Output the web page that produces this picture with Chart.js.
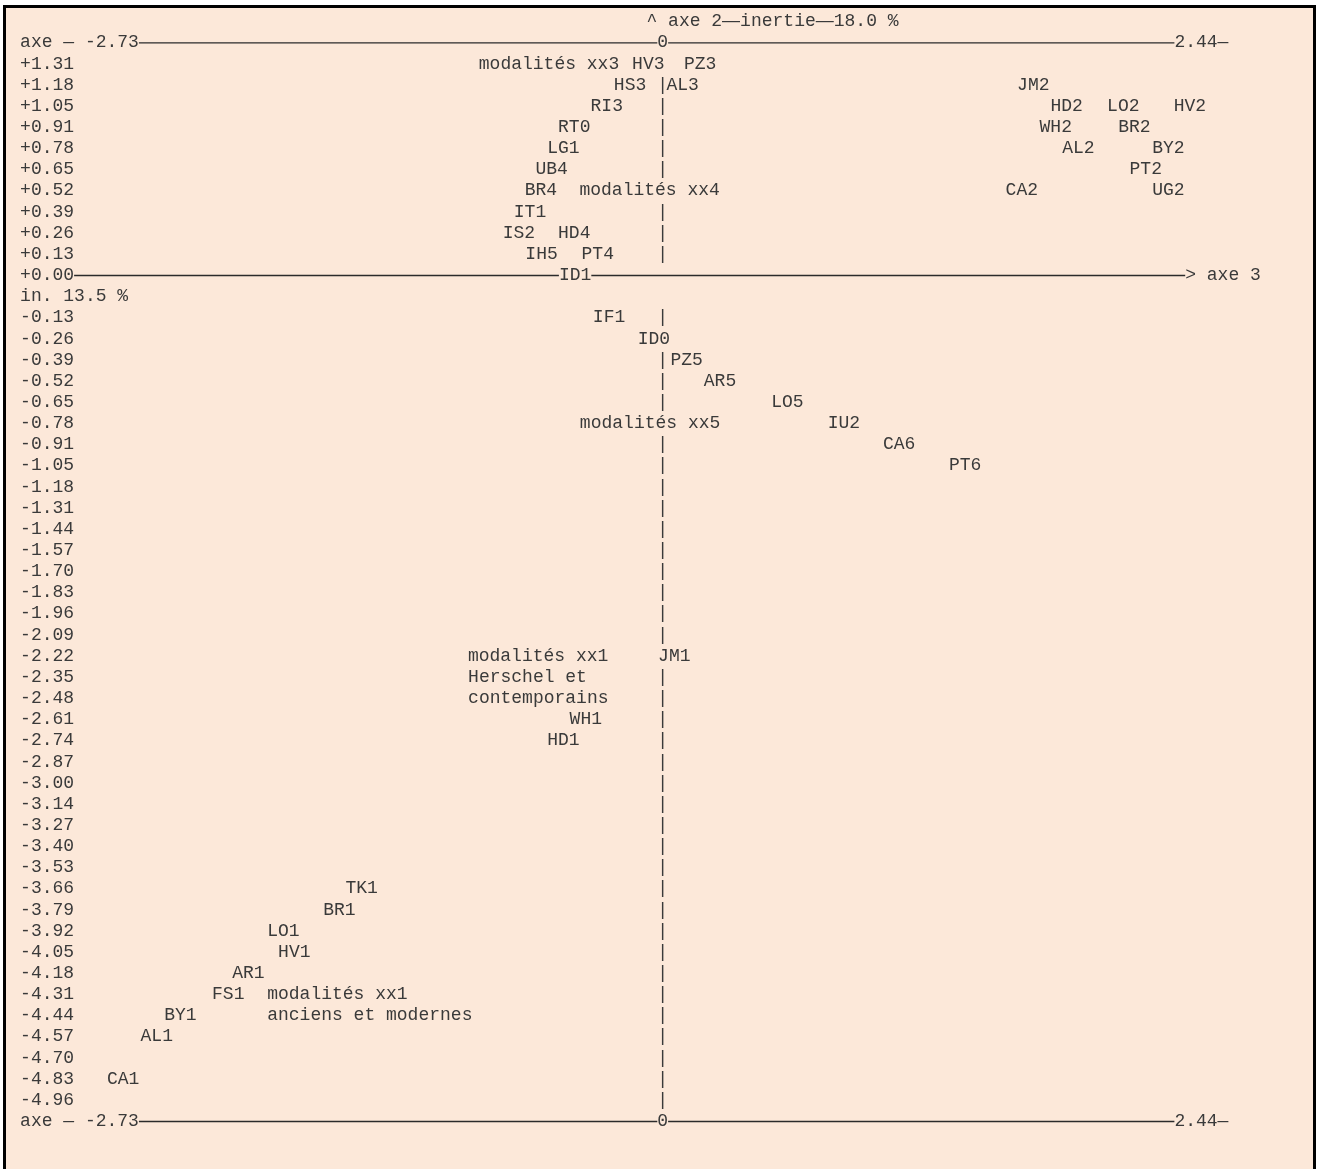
<!DOCTYPE html>
<html>
<head>
<meta charset="utf-8">
<script src="https://cdn.jsdelivr.net/npm/chart.js@4.4.1/dist/chart.umd.min.js"></script>
<style>
  html, body { margin: 0; padding: 0; background: #fff; overflow: hidden; }
  #box { position: absolute; left: 3px; top: 5px; width: 1313px; height: 1250px; box-sizing: border-box;
         border: 3px solid #000; background: #fce8d9; }
  #wrap { position: absolute; left: 0; top: 0; width: 1317px; height: 1169px; }
</style>
</head>
<body>
<div id="box"></div>
<div id="wrap"><canvas id="plan"></canvas></div>
<script>
// rows of the text plot (axe 2), the "in." line is the inertia note of axe 3
const rowLabels = ['+1.31','+1.18','+1.05','+0.91','+0.78','+0.65','+0.52','+0.39','+0.26','+0.13',
  '+0.00','in. 13.5 %',
  '-0.13','-0.26','-0.39','-0.52','-0.65','-0.78','-0.91','-1.05','-1.18','-1.31','-1.44','-1.57',
  '-1.70','-1.83','-1.96','-2.09','-2.22','-2.35','-2.48','-2.61','-2.74','-2.87','-3.00','-3.14',
  '-3.27','-3.40','-3.53','-3.66','-3.79','-3.92','-4.05','-4.18','-4.31','-4.44','-4.57','-4.70',
  '-4.83','-4.96'];
const axe3Ends = ['-2.73', '2.44'];
const zeroRow = '+0.00';
const inertiaRow = 'in. 13.5 %';
const titleParts = ['^ axe 2', 'inertie', '18.0 %'];
const axe3Title = 'axe 3';

// modalites
const modNames = ['HV3','PZ3','HS3','AL3','JM2','RI3','HD2','LO2','HV2','RT0','WH2','BR2',
  'LG1','AL2','BY2','UB4','PT2','BR4','CA2','UG2','IT1','IS2','HD4','IH5','PT4','ID1',
  'IF1','ID0','PZ5','AR5','LO5','IU2','CA6','PT6','JM1','WH1','HD1',
  'TK1','BR1','LO1','HV1','AR1','FS1','BY1','AL1','CA1'];
const modAxe3 = [-0.146, 0.101, -0.233, 0.018, 1.690, -0.344, 1.849, 2.119, 2.437, -0.499, 1.797, 2.172,
  -0.551, 1.905, 2.334, -0.607, 2.226, -0.658, 1.635, 2.334, -0.710, -0.763, -0.499, -0.655, -0.387, -0.495,
  -0.333, -0.119, 0.037, 0.196, 0.517, 0.787, 1.050, 1.365, -0.022, -0.444, -0.551,
  -1.513, -1.619, -1.886, -1.834, -2.053, -2.149, -2.377, -2.490, -2.650];
const modAxe2 = ['+1.31','+1.31','+1.18','+1.18','+1.18','+1.05','+1.05','+1.05','+1.05','+0.91','+0.91','+0.91',
  '+0.78','+0.78','+0.78','+0.65','+0.65','+0.52','+0.52','+0.52','+0.39','+0.26','+0.26','+0.13','+0.13','+0.00',
  '-0.13','-0.26','-0.39','-0.52','-0.65','-0.78','-0.91','-1.05','-2.22','-2.61','-2.74',
  '-3.66','-3.79','-3.92','-4.05','-4.18','-4.31','-4.44','-4.57','-4.83'];

// group notes written in the plot
const noteTexts = ['modalités xx3','modalités xx4','modalités xx5','modalités xx1','Herschel et',
  'contemporains','modalités xx1','anciens et modernes'];
const noteAxe3 = [-0.877, -0.397, -0.395, -0.929, -0.928, -0.928, -1.886, -1.886];
const noteAxe2 = ['+1.31','+0.52','-0.78','-2.22','-2.35','-2.48','-4.31','-4.44'];

const FONT_FAMILY = "'Courier New', 'Liberation Mono', monospace";
const FONT = '18px ' + FONT_FAMILY;
const DASH_FONT = "18px 'Liberation Sans', Arial, sans-serif";
const INK = '#3a3a3a';
const BG = '#fce8d9';

const toPoints = (names, xs, ys) => names.map((n, i) => ({ x: xs[i], y: ys[i], name: n }));

const textPlot = {
  id: 'textPlot',
  afterDatasetsDraw(chart) {
    const { ctx, scales: { x, y } } = chart;
    ctx.save();
    ctx.font = FONT;
    ctx.textBaseline = 'middle';
    ctx.fillStyle = INK;
    ctx.strokeStyle = '#2b2b2b';
    const cw = ctx.measureText('0').width;
    const step = y.getPixelForValue(1) - y.getPixelForValue(0);
    const x0 = x.getPixelForValue(0);
    const d = ctx.measureText('—');
    const dashOff = (d.actualBoundingBoxDescent - d.actualBoundingBoxAscent) / 2;
    ctx.lineWidth = 1.4;
    const hline = (a, b, py) => {
      ctx.beginPath(); ctx.moveTo(a, py + dashOff); ctx.lineTo(b, py + dashOff); ctx.stroke();
    };

    // collect the marks with their pixel positions
    const marks = [];
    chart.data.datasets.forEach((ds, di) => {
      chart.getDatasetMeta(di).data.forEach((el, i) => {
        const p = ds.data[i];
        marks.push({ text: p.name, px: el.x, py: el.y, row: rowLabels.indexOf(p.y),
                     w: ctx.measureText(p.name).width });
      });
    });

    const zr = rowLabels.indexOf(zeroRow);
    const ir = rowLabels.indexOf(inertiaRow);

    // inertia note of axe 3 (wider than the tick column)
    ctx.textAlign = 'left';
    ctx.fillText(inertiaRow, y.left, y.getPixelForValue(ir));

    // vertical axis made of "|" per line
    ctx.textAlign = 'center';
    rowLabels.forEach((lab, r) => {
      if (r === zr || r === ir) return;
      const covered = marks.some(m => m.row === r && m.px <= x0 && m.px + m.w >= x0);
      if (!covered) ctx.fillText('|', x0, y.getPixelForValue(r));
    });

    // top and bottom axe 3 lines
    const axisLine = (py) => {
      ctx.textAlign = 'left';
      const lead = 'axe — ' + axe3Ends[0];
      ctx.fillText(lead, y.left, py);
      hline(y.left + ctx.measureText(lead).width, x0 - cw / 2, py);
      ctx.textAlign = 'center';
      ctx.fillText('0', x0, py);
      hline(x0 + cw / 2, x.right, py);
      ctx.textAlign = 'left';
      ctx.fillText(axe3Ends[1] + '—', x.right, py);
    };
    const yTop = y.getPixelForValue(0) - step;
    const yBot = y.getPixelForValue(rowLabels.length - 1) + step;
    axisLine(yTop);
    axisLine(yBot);

    // zero line of axe 2
    const yz = y.getPixelForValue(zr);
    ctx.textAlign = 'left';
    hline(y.left + ctx.measureText(zeroRow).width, x.right + cw, yz);
    ctx.fillText('> ' + axe3Title, x.right + cw, yz);

    // title of axe 2
    const yt = yTop - step;
    let tx = x0 - 1.5 * cw;
    titleParts.forEach((part, i) => {
      ctx.font = FONT;
      ctx.fillText(part, tx, yt);
      tx += ctx.measureText(part).width;
      if (i < titleParts.length - 1) {
        ctx.font = DASH_FONT;
        ctx.fillText('—', tx, yt);
        tx += ctx.measureText('—').width;
      }
    });
    ctx.font = FONT;

    // labels
    ctx.textAlign = 'left';
    marks.forEach(m => {
      if (m.row === zr) {
        ctx.fillStyle = BG;
        ctx.fillRect(m.px, m.py - step / 2 + 2, m.w, step - 4);
        ctx.fillStyle = INK;
      }
      ctx.fillText(m.text, m.px, m.py);
    });
    ctx.restore();
  }
};

new Chart(document.getElementById('plan'), {
  type: 'scatter',
  data: {
    datasets: [
      { label: 'modalités', data: toPoints(modNames, modAxe3, modAxe2), pointRadius: 0, pointHoverRadius: 0 },
      { label: 'groupes', data: toPoints(noteTexts, noteAxe3, noteAxe2), pointRadius: 0, pointHoverRadius: 0 }
    ]
  },
  options: {
    responsive: true,
    maintainAspectRatio: false,
    animation: false,
    events: [],
    layout: { padding: { left: 20.1, top: 63.8, right: 142.6, bottom: 68.85 } },
    plugins: { legend: { display: false }, tooltip: { enabled: false } },
    scales: {
      x: {
        type: 'linear',
        min: parseFloat(axe3Ends[0]),
        max: parseFloat(axe3Ends[1]),
        display: false
      },
      y: {
        type: 'category',
        labels: rowLabels,
        offset: false,
        grid: { display: false },
        border: { display: false },
        afterFit: (scale) => { scale.width = 70.1; },
        ticks: {
          autoSkip: false,
          crossAlign: 'far',
          padding: 0,
          color: INK,
          font: { family: FONT_FAMILY, size: 18 },
          // the inertia line is written by the plugin, it is wider than the tick column
          callback: (v, i) => (rowLabels[i] === inertiaRow ? '' : rowLabels[i])
        }
      }
    }
  },
  plugins: [textPlot]
});
</script>
</body>
</html>
